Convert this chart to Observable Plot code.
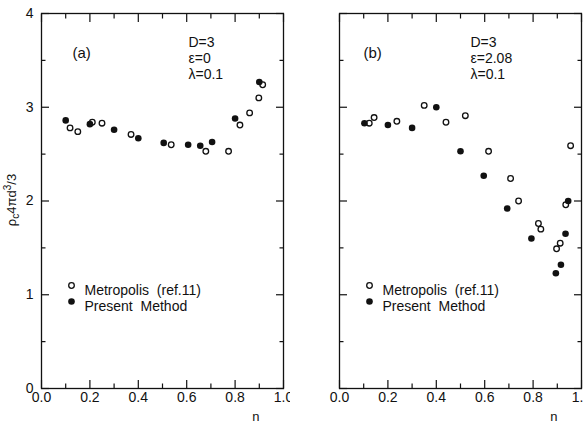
<!DOCTYPE html>
<html><head><meta charset="utf-8">
<script src="https://cdn.jsdelivr.net/npm/d3@7"></script>
<script src="https://cdn.jsdelivr.net/npm/@observablehq/plot@0.6"></script>
<style>
body{margin:0;background:#fff;overflow:hidden}
#wrap{display:flex;width:583px;height:423px}
</style></head><body><div id="wrap"></div>
<script>
// ---- data: panel (a) D=3, eps=0, lambda=0.1
const aMetroN = [0.118, 0.15, 0.21, 0.25, 0.37, 0.536, 0.679, 0.773, 0.82, 0.86, 0.898, 0.914];
const aMetroV = [2.78, 2.74, 2.84, 2.83, 2.71, 2.60, 2.53, 2.53, 2.81, 2.94, 3.10, 3.24];
const aPresN  = [0.10, 0.20, 0.30, 0.40, 0.505, 0.606, 0.656, 0.705, 0.80, 0.90];
const aPresV  = [2.86, 2.82, 2.76, 2.67, 2.62, 2.60, 2.59, 2.63, 2.88, 3.27];
// ---- data: panel (b) D=3, eps=2.08, lambda=0.1
const bMetroN = [0.123, 0.143, 0.237, 0.35, 0.44, 0.52, 0.616, 0.707, 0.74, 0.822, 0.832, 0.897, 0.912, 0.935, 0.955];
const bMetroV = [2.83, 2.89, 2.85, 3.02, 2.84, 2.91, 2.53, 2.24, 2.00, 1.76, 1.70, 1.49, 1.55, 1.96, 2.59];
const bPresN  = [0.103, 0.20, 0.30, 0.40, 0.50, 0.596, 0.693, 0.793, 0.894, 0.915, 0.934, 0.945];
const bPresV  = [2.83, 2.81, 2.78, 3.00, 2.53, 2.27, 1.92, 1.60, 1.23, 1.32, 1.65, 2.00];
// ---- ticks and texts
const xMajor = [0, 0.2, 0.4, 0.6, 0.8, 1.0];
const xMinor = [0.1, 0.3, 0.5, 0.7, 0.9];
const yMajor = [0, 1, 2, 3, 4];
const yMinor = [0.5, 1.5, 2.5, 3.5];
const legendItems = ["Metropolis  (ref.11)", "Present  Method"];
const xTitle = "n";
const tagA = "(a)", tagB = "(b)";
const paramsA = ["D=3", "ε=0", "λ=0.1"];
const paramsB = ["D=3", "ε=2.08", "λ=0.1"];

const ink = "#111";
const FONT = '"Liberation Sans", Arial, Helvetica, sans-serif';

function panel({mN, mV, pN, pV, tag, params, width, marginLeft, marginRight, yLabels, tagDx, parDx}) {
  const metro = mN.map((n, i) => ({n, v: mV[i]}));
  const pres = pN.map((n, i) => ({n, v: pV[i]}));
  const blank = () => "";
  const tk = {stroke: ink, strokeWidth: 1.2, tickFormat: blank, label: null};
  return Plot.plot({
    width, height: 423, marginTop: 13, marginBottom: 35, marginLeft, marginRight,
    x: {domain: [0, 1]}, y: {domain: [0, 4]},
    style: {fontFamily: FONT, fontSize: "14px", color: ink, background: "white", overflow: "visible"},
    marks: [
      Plot.frame({stroke: ink, strokeWidth: 1.3}),
      Plot.axisX(xMajor, {anchor: "bottom", tickSize: -8, ...tk}),
      Plot.axisX(xMinor, {anchor: "bottom", tickSize: -4.5, ...tk}),
      Plot.axisX(xMajor, {anchor: "top", tickSize: -8, ...tk}),
      Plot.axisX(xMinor, {anchor: "top", tickSize: -4.5, ...tk}),
      Plot.axisY(yMajor, {anchor: "left", tickSize: -8, ...tk}),
      Plot.axisY(yMinor, {anchor: "left", tickSize: -4.5, ...tk}),
      Plot.axisY(yMajor, {anchor: "right", tickSize: -8, ...tk}),
      Plot.axisY(yMinor, {anchor: "right", tickSize: -4.5, ...tk}),
      Plot.axisX(xMajor, {anchor: "bottom", tickSize: 0, tickPadding: 4, tickFormat: d3.format(".1f"), fontSize: 14, label: null, fill: ink}),
      yLabels ? Plot.axisY(yMajor, {anchor: "left", tickSize: 0, tickPadding: 8, tickFormat: d => String(d), fontSize: 14, label: null, fill: ink}) : null,
      Plot.text([xTitle], {text: d => d, frameAnchor: "bottom-right", dx: -24, dy: 32, fontSize: 13, fill: ink}),
      Plot.text([tag], {text: d => d, frameAnchor: "top-left", dx: tagDx, dy: 34, textAnchor: "start", fontSize: 15, fill: ink}),
      Plot.text([params.join("\n")], {text: d => d, frameAnchor: "top-left", dx: parDx, dy: 22, textAnchor: "start", lineAnchor: "top", lineHeight: 1.15, fontSize: 14, fill: ink}),
      Plot.dot([legendItems[0]], {frameAnchor: "top-left", dx: 30, dy: 272, r: 2.8, stroke: ink, strokeWidth: 1.3, fill: "white"}),
      Plot.dot([legendItems[1]], {frameAnchor: "top-left", dx: 30, dy: 288, r: 3.3, fill: ink}),
      Plot.text([legendItems[0]], {text: d => d, frameAnchor: "top-left", dx: 43, dy: 272, textAnchor: "start", fontSize: 14, fill: ink}),
      Plot.text([legendItems[1]], {text: d => d, frameAnchor: "top-left", dx: 43, dy: 288, textAnchor: "start", fontSize: 14, fill: ink}),
      Plot.dot(metro, {x: "n", y: "v", r: 2.8, stroke: ink, strokeWidth: 1.3, fill: "white"}),
      Plot.dot(pres, {x: "n", y: "v", r: 3.3, fill: ink})
    ]
  });
}

const wrap = document.getElementById("wrap");
const svgA = panel({mN: aMetroN, mV: aMetroV, pN: aPresN, pV: aPresV, tag: tagA, params: paramsA,
  width: 290, marginLeft: 41, marginRight: 7, yLabels: true, tagDx: 31, parDx: 147});
const svgB = panel({mN: bMetroN, mV: bMetroV, pN: bPresN, pV: bPresV, tag: tagB, params: paramsB,
  width: 293, marginLeft: 49, marginRight: 2, yLabels: false, tagDx: 24, parDx: 131});
wrap.appendChild(svgA);
wrap.appendChild(svgB);

// y-axis title with subscript/superscript
const t = d3.select(svgA).append("text")
  .attr("transform", "translate(16,200) rotate(-90)")
  .attr("text-anchor", "middle")
  .attr("fill", ink)
  .style("font-family", FONT).style("font-size", "13px");
t.append("tspan").text("ρ");
t.append("tspan").attr("dy", 3).style("font-size", "10px").text("c");
t.append("tspan").attr("dy", -3).text("4πd");
t.append("tspan").attr("dy", -5).style("font-size", "10px").text("3");
t.append("tspan").attr("dy", 5).text("/3");
</script></body></html>
